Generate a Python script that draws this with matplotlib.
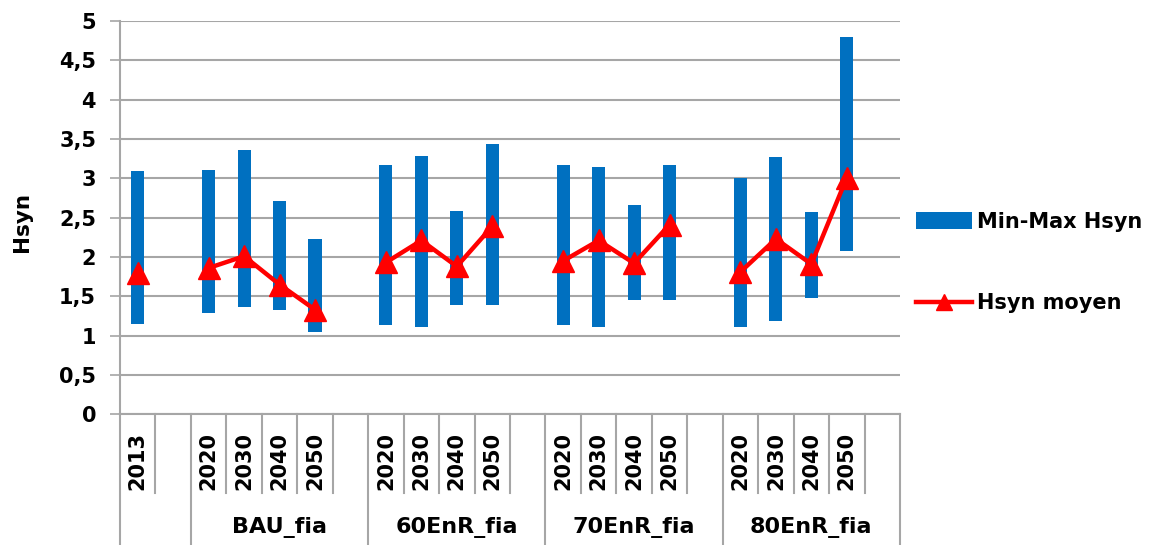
import matplotlib
matplotlib.use("Agg")
import matplotlib.pyplot as plt
import matplotlib.transforms as mtransforms
from matplotlib.patches import Patch
from matplotlib.lines import Line2D
import numpy as np

# ---- data ----
groups = ["", "BAU_fia", "60EnR_fia", "70EnR_fia", "80EnR_fia"]
group_years = [
    ["2013", ""],
    ["2020", "2030", "2040", "2050", ""],
    ["2020", "2030", "2040", "2050", ""],
    ["2020", "2030", "2040", "2050", ""],
    ["2020", "2030", "2040", "2050", ""],
]
hsyn_min = [1.15, None, 1.29, 1.37, 1.32, 1.05, None, 1.13, 1.11, 1.39, 1.39, None,
            1.13, 1.11, 1.45, 1.45, None, 1.11, 1.19, 1.48, 2.07, None]
hsyn_max = [3.09, None, 3.11, 3.36, 2.71, 2.23, None, 3.17, 3.28, 2.58, 3.44, None,
            3.17, 3.14, 2.66, 3.17, None, 3.01, 3.27, 2.57, 4.80, None]
hsyn_mean = [1.80, None, 1.86, 2.01, 1.65, 1.33, None, 1.93, 2.21, 1.88, 2.39, None,
             1.95, 2.21, 1.92, 2.41, None, 1.81, 2.23, 1.91, 3.01, None]
yticks = [0, 0.5, 1, 1.5, 2, 2.5, 3, 3.5, 4, 4.5, 5]
ytick_labels = ["0", "0,5", "1", "1,5", "2", "2,5", "3", "3,5", "4", "4,5", "5"]
legend_labels = ["Min-Max Hsyn", "Hsyn moyen"]

BLUE = "#0070C0"
RED = "#FF0000"
GRID = "#A6A6A6"

plt.rcParams["font.family"] = ["DejaVu Sans"]
plt.rcParams["font.weight"] = "bold"

W, H = 1149, 545
fig = plt.figure(figsize=(W / 100, H / 100), dpi=100)
ax = fig.add_axes([120 / W, (H - 414.3) / H, 780 / W, 393.3 / H])

categories = [y for g in group_years for y in g]
n = len(categories)
x = np.arange(n)

def arr(v):
    return np.array([np.nan if a is None else a for a in v], dtype=float)

mn, mx, me = arr(hsyn_min), arr(hsyn_max), arr(hsyn_mean)

ax.bar(x, mx - mn, bottom=mn, width=0.37, color=BLUE, zorder=2)
ax.plot(x, me, color=RED, lw=3.2, marker="^", markersize=15.5, zorder=3)

ax.set_xlim(-0.5, n - 0.5)
ax.set_ylim(0, 5)
ax.set_yticks(yticks)
ax.set_yticklabels(ytick_labels, fontsize=15, fontweight="bold")
ax.yaxis.grid(True, color=GRID, lw=1.5, zorder=0)
ax.set_axisbelow(True)
ax.tick_params(axis="y", length=7.2, width=1.2, color=GRID, pad=10)

ax.set_xticks(x)
ax.set_xticklabels(categories, rotation=90, fontsize=15, fontweight="bold", va="top")
ax.tick_params(axis="x", length=0, pad=13)

for s in ["top", "right"]:
    ax.spines[s].set_visible(False)
for s in ["left", "bottom"]:
    ax.spines[s].set_color(GRID)
    ax.spines[s].set_linewidth(1.5)

ax.set_ylabel("Hsyn", fontsize=15.5, fontweight="bold")
ax.yaxis.set_label_coords(-0.113, 0.49)

# multi-level category axis separators and group labels
trans = mtransforms.blended_transform_factory(ax.transData, ax.transAxes)
short_bottom = -(493 - 414.3) / 393.3
tall_bottom = -(545 - 414.3) / 393.3
start = 0
for g, yrs in zip(groups, group_years):
    end = start + len(yrs)
    for k in range(start + 1, end):
        ax.plot([k - 0.5, k - 0.5], [0, short_bottom], color=GRID, lw=1.5,
                transform=trans, clip_on=False)
    ax.plot([end - 0.5, end - 0.5], [0, tall_bottom], color=GRID, lw=1.5,
            transform=trans, clip_on=False)
    if g:
        ax.text((start + end - 1) / 2, -(528 - 414.3) / 393.3, g, transform=trans,
                ha="center", va="center", fontsize=16, fontweight="bold")
    start = end
ax.plot([-0.5, -0.5], [0, tall_bottom], color=GRID, lw=1.5, transform=trans, clip_on=False)

handles = [Patch(facecolor=BLUE, edgecolor="none"),
           Line2D([], [], color=RED, lw=3.2, marker="^", markersize=12)]
fig.legend(handles, legend_labels, loc="upper left",
           bbox_to_anchor=(916 / W, (H - 212) / H), frameon=False,
           borderpad=0, borderaxespad=0, handlelength=2.7, handleheight=0.85,
           handletextpad=0.25, labelspacing=2.95,
           prop={"size": 15, "weight": "bold"})

fig.savefig("out.png", dpi=100)
